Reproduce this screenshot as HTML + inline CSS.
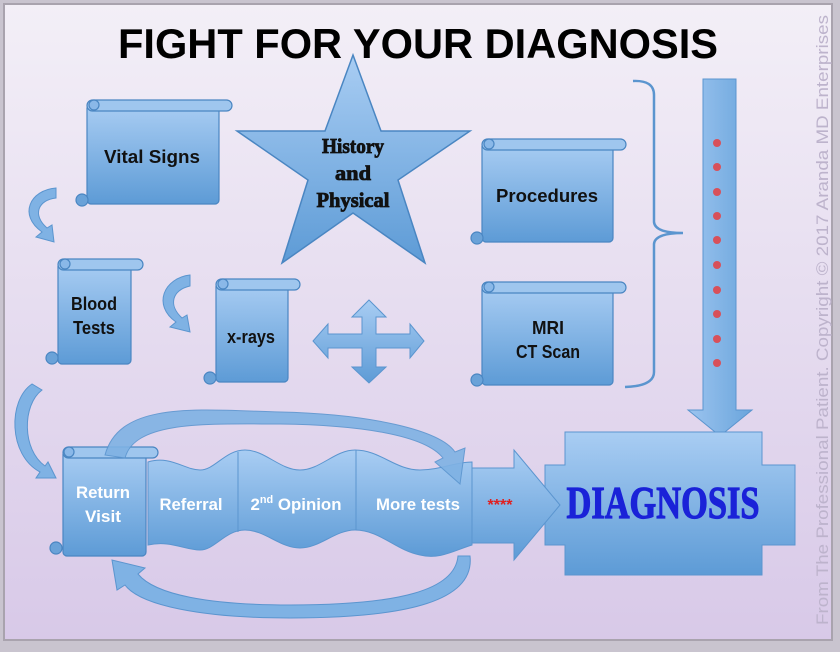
<!DOCTYPE html>
<html><head><meta charset="utf-8"><style>
html,body{margin:0;padding:0;background:#c9c4cf;}
svg{display:block}
</style></head><body>
<svg width="840" height="652" viewBox="0 0 840 652" xmlns="http://www.w3.org/2000/svg">
<defs>
<linearGradient id="bg" x1="0" y1="0" x2="0" y2="1"><stop offset="0" stop-color="#f3eff7"/><stop offset="1" stop-color="#d8c9e8"/></linearGradient>
<linearGradient id="bl" x1="0" y1="0" x2="0" y2="1"><stop offset="0" stop-color="#a9cdf3"/><stop offset="1" stop-color="#5d9bd6"/></linearGradient>
<linearGradient id="blh" x1="0" y1="0" x2="1" y2="0"><stop offset="0" stop-color="#9cc4ef"/><stop offset="1" stop-color="#6aa5dc"/></linearGradient>
</defs>
<rect x="0" y="0" width="840" height="652" fill="#c9c4cf"/>
<rect x="4" y="4" width="828" height="636" fill="url(#bg)" stroke="#a9a3ae" stroke-width="2"/>
<text x="418" y="58" text-anchor="middle" font-family="Liberation Sans, sans-serif" font-weight="bold" font-size="42" textLength="600" lengthAdjust="spacingAndGlyphs" fill="#000">FIGHT FOR YOUR DIAGNOSIS</text>

<polygon points="353,55 381,131 470,131 398,180 425,263 353,213 282,263 308,180 237,131 325,131" fill="url(#bl)" stroke="#4a86c2" stroke-width="1.5"/>
<g font-family="Liberation Serif, serif" font-weight="bold" font-size="21" text-anchor="middle" fill="#111" stroke="#111" stroke-width="0.8">
<text x="353" y="153" textLength="62" lengthAdjust="spacingAndGlyphs">History</text>
<text x="353" y="180" textLength="36" lengthAdjust="spacingAndGlyphs">and</text>
<text x="353" y="207" textLength="73" lengthAdjust="spacingAndGlyphs">Physical</text>
</g>

<g stroke="#4a86c2" stroke-width="1.2">
<rect x="87" y="104" width="132" height="100" rx="4" fill="url(#bl)"/>
<rect x="87" y="100" width="145" height="11" rx="5.5" fill="#9fc6ee"/>
<circle cx="94" cy="105" r="5" fill="#8ab8e8"/><circle cx="82" cy="200" r="6" fill="#6aa2d8"/>
<rect x="482" y="142" width="131" height="100" rx="4" fill="url(#bl)"/>
<rect x="482" y="139" width="144" height="11" rx="5.5" fill="#9fc6ee"/>
<circle cx="489" cy="144" r="5" fill="#8ab8e8"/><circle cx="477" cy="238" r="6" fill="#6aa2d8"/>
<rect x="482" y="285" width="131" height="100" rx="4" fill="url(#bl)"/>
<rect x="482" y="282" width="144" height="11" rx="5.5" fill="#9fc6ee"/>
<circle cx="489" cy="287" r="5" fill="#8ab8e8"/><circle cx="477" cy="380" r="6" fill="#6aa2d8"/>
<rect x="58" y="262" width="73" height="102" rx="4" fill="url(#bl)"/>
<rect x="58" y="259" width="85" height="11" rx="5.5" fill="#9fc6ee"/>
<circle cx="65" cy="264" r="5" fill="#8ab8e8"/><circle cx="52" cy="358" r="6" fill="#6aa2d8"/>
<rect x="216" y="282" width="72" height="100" rx="4" fill="url(#bl)"/>
<rect x="216" y="279" width="84" height="11" rx="5.5" fill="#9fc6ee"/>
<circle cx="223" cy="284" r="5" fill="#8ab8e8"/><circle cx="210" cy="378" r="6" fill="#6aa2d8"/>
</g>
<g font-family="Liberation Sans, sans-serif" font-weight="bold" font-size="18" text-anchor="middle" fill="#111">
<text x="152" y="163" textLength="96" lengthAdjust="spacingAndGlyphs">Vital Signs</text>
<text x="547" y="202" textLength="102" lengthAdjust="spacingAndGlyphs">Procedures</text>
<text x="548" y="334" textLength="32" lengthAdjust="spacingAndGlyphs">MRI</text>
<text x="548" y="358" textLength="64" lengthAdjust="spacingAndGlyphs">CT Scan</text>
<text x="94" y="310" textLength="46" lengthAdjust="spacingAndGlyphs">Blood</text>
<text x="94" y="334" textLength="42" lengthAdjust="spacingAndGlyphs">Tests</text>
<text x="251" y="343" textLength="48" lengthAdjust="spacingAndGlyphs">x-rays</text>
</g>

<g fill="#7fb2e4" stroke="#5b95cf" stroke-width="1">
<path d="M56,188 C30,190 18,215 42,232 L36,237 L54,242 L52,225 L47,228 C32,215 38,200 56,198 Z"/>
<path d="M190,275 C164,278 152,305 176,322 L170,327 L190,332 L187,315 L182,318 C168,305 172,290 190,286 Z"/>
<path d="M32,384 C8,400 8,455 40,472 L36,478 L56,478 L48,462 L45,466 C22,450 22,405 42,390 Z"/>
</g>

<polygon points="369,300 386,317 376,317 376,334 410,334 410,324 424,341 410,358 410,348 376,348 376,367 386,367 369,383 352,367 362,367 362,348 328,348 328,358 313,341 328,324 328,334 362,334 362,317 352,317" fill="url(#bl)" stroke="#5b95cf"/>

<path d="M633,81 Q654,80 654,95 L654,222 Q655,233 683,233 Q655,233 654,244 L654,372 Q654,386 625,387" fill="none" stroke="#5b95cf" stroke-width="2.5"/>

<polygon points="703,79 736,79 736,410 752,410 720,436 688,410 703,410" fill="url(#blh)" stroke="#5b95cf"/>
<g fill="#d8505a">
<circle cx="717" cy="143" r="4"/><circle cx="717" cy="167" r="4"/><circle cx="717" cy="192" r="4"/><circle cx="717" cy="216" r="4"/><circle cx="717" cy="240" r="4"/><circle cx="717" cy="265" r="4"/><circle cx="717" cy="290" r="4"/><circle cx="717" cy="314" r="4"/><circle cx="717" cy="339" r="4"/><circle cx="717" cy="363" r="4"/>
</g>

<path d="M565,432 L762,432 L762,465 L795,465 L795,545 L762,545 L762,575 L565,575 L565,545 L545,545 L545,465 L565,465 Z" fill="url(#bl)" stroke="#5b95cf"/>
<text x="663" y="518" text-anchor="middle" font-family="Liberation Serif, serif" font-weight="bold" font-size="46" textLength="193" lengthAdjust="spacingAndGlyphs" fill="#1a22d8" stroke="#1a22d8" stroke-width="1.2">DIAGNOSIS</text>

<polygon points="470,468 514,468 514,450 560,505 514,560 514,543 470,543" fill="url(#bl)" stroke="#5b95cf"/>
<text x="500" y="510" text-anchor="middle" font-family="Liberation Sans, sans-serif" font-weight="bold" font-size="16" fill="#e02020">****</text>

<path d="M148,462 C170,455 185,470 200,470 C215,470 225,450 245,450 C265,450 280,470 300,470 C320,470 335,450 355,450 C380,450 395,470 420,470 C440,470 455,462 472,462 L472,545 C455,550 440,560 420,555 C395,550 380,530 355,530 C335,530 320,548 300,548 C280,548 265,530 245,530 C225,530 215,550 200,550 C185,550 170,540 148,545 Z" fill="url(#bl)" stroke="#5b95cf"/>
<g stroke="#5b95cf" stroke-width="1"><line x1="238" y1="452" x2="238" y2="532"/><line x1="356" y1="450" x2="356" y2="530"/></g>

<g stroke="#4a86c2" stroke-width="1.2">
<rect x="63" y="450" width="83" height="106" rx="4" fill="url(#bl)"/>
<rect x="63" y="447" width="95" height="11" rx="5.5" fill="#9fc6ee"/>
<circle cx="69" cy="452" r="5" fill="#8ab8e8"/><circle cx="56" cy="548" r="6" fill="#6aa2d8"/>
</g>

<path d="M105,455 C120,400 200,410 280,412 C370,414 440,430 455,452 L465,448 L460,484 L435,462 L443,458 C425,435 360,425 280,424 C210,424 135,420 125,458 Z" fill="#7fb2e4" stroke="#5b95cf" opacity="0.9"/>
<path d="M470,556 C475,600 410,618 290,618 C200,618 140,605 125,585 L117,590 L112,560 L145,568 L138,574 C155,595 210,605 290,605 C400,605 455,590 458,556 Z" fill="#7fb2e4" stroke="#5b95cf"/>

<g font-family="Liberation Sans, sans-serif" font-weight="bold" font-size="17" text-anchor="middle" fill="#fff">
<text x="103" y="498" textLength="54" lengthAdjust="spacingAndGlyphs">Return</text>
<text x="103" y="522" textLength="36" lengthAdjust="spacingAndGlyphs">Visit</text>
<text x="191" y="510" textLength="63" lengthAdjust="spacingAndGlyphs">Referral</text>
<text x="296" y="510" textLength="91" lengthAdjust="spacingAndGlyphs">2<tspan font-size="11" dy="-7">nd</tspan><tspan dy="7"> Opinion</tspan></text>
<text x="418" y="510" textLength="84" lengthAdjust="spacingAndGlyphs">More tests</text>
</g>

<text transform="translate(828,320) rotate(-90)" text-anchor="middle" font-family="Liberation Sans, sans-serif" font-size="17" fill="#bdb3cc" textLength="610" lengthAdjust="spacingAndGlyphs">From The Professional Patient. Copyright © 2017 Aranda MD Enterprises</text>
</svg>
</body></html>
